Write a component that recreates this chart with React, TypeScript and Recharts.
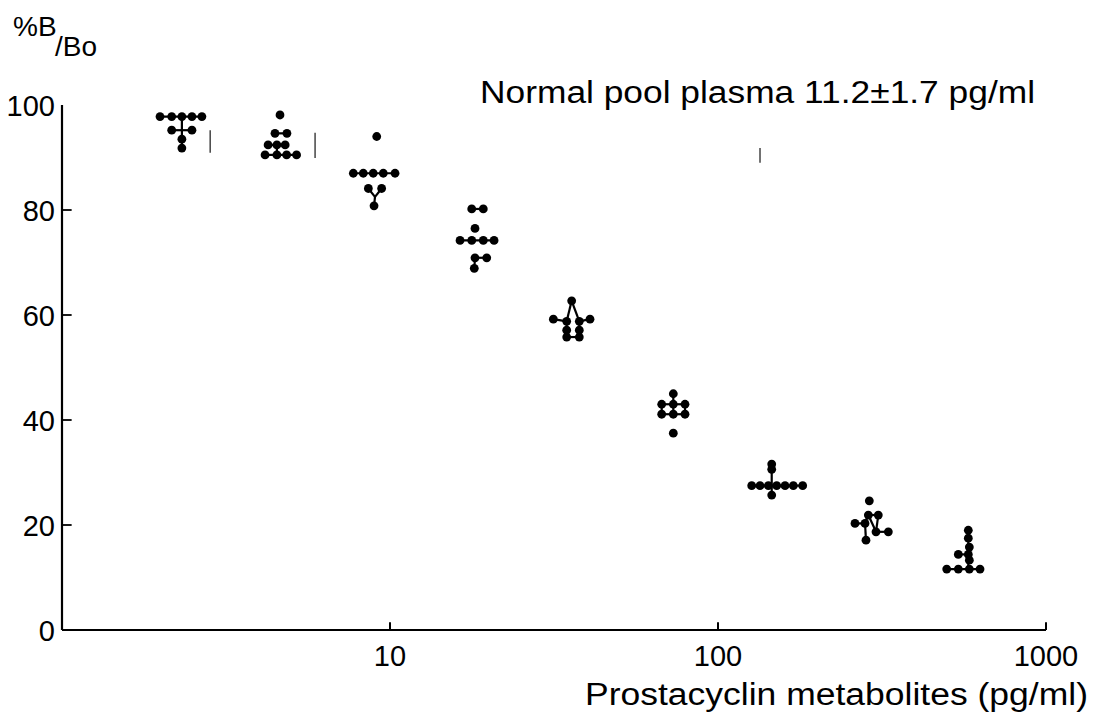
import React from 'react';
import { ScatterChart, Scatter, XAxis, YAxis, ReferenceLine, Label } from 'recharts';

type P = { x: number; y: number };

const FONT = '"Liberation Sans", Arial, sans-serif';

const xTicks = [10, 100, 1000];
const yTicks = [0, 20, 40, 60, 80, 100];
const yInnerTicks = [20, 40, 60, 80];

// Individual determinations (pg/ml, %B/Bo), dots placed side by side as in the dot plot
const cluster1: P[] = [
  { x: 1.99, y: 97.8 }, { x: 2.16, y: 97.8 }, { x: 2.32, y: 97.8 }, { x: 2.49, y: 97.8 }, { x: 2.67, y: 97.8 },
  { x: 2.16, y: 95.2 }, { x: 2.49, y: 95.2 }, { x: 2.32, y: 93.5 }, { x: 2.32, y: 91.8 },
];
const cluster2: P[] = [
  { x: 4.62, y: 98.1 }, { x: 4.46, y: 94.6 }, { x: 4.85, y: 94.6 },
  { x: 4.25, y: 92.4 }, { x: 4.52, y: 92.4 }, { x: 4.79, y: 92.4 },
  { x: 4.16, y: 90.5 }, { x: 4.52, y: 90.5 }, { x: 4.84, y: 90.5 }, { x: 5.19, y: 90.5 },
];
const cluster3: P[] = [
  { x: 9.11, y: 94.0 },
  { x: 7.73, y: 87.0 }, { x: 8.29, y: 87.0 }, { x: 8.89, y: 87.0 }, { x: 9.54, y: 87.0 }, { x: 10.36, y: 87.0 },
  { x: 8.59, y: 84.1 }, { x: 9.43, y: 84.1 }, { x: 8.94, y: 80.8 },
];
const cluster4: P[] = [
  { x: 17.75, y: 80.2 }, { x: 19.25, y: 80.2 }, { x: 18.16, y: 76.5 },
  { x: 16.35, y: 74.2 }, { x: 17.75, y: 74.2 }, { x: 19.25, y: 74.2 }, { x: 20.76, y: 74.2 },
  { x: 18.16, y: 70.9 }, { x: 19.72, y: 70.9 }, { x: 18.07, y: 68.9 },
];
const cluster5: P[] = [
  { x: 35.8, y: 62.7 }, { x: 31.48, y: 59.2 }, { x: 40.72, y: 59.2 },
  { x: 34.57, y: 58.8 }, { x: 37.77, y: 58.8 }, { x: 34.57, y: 57.1 }, { x: 37.77, y: 57.1 },
  { x: 34.57, y: 55.8 }, { x: 37.77, y: 55.8 },
];
const cluster6: P[] = [
  { x: 73.07, y: 45.0 },
  { x: 67.35, y: 43.0 }, { x: 73.07, y: 43.0 }, { x: 79.33, y: 43.0 },
  { x: 67.35, y: 41.1 }, { x: 73.07, y: 41.1 }, { x: 79.33, y: 41.1 },
  { x: 73.07, y: 37.5 },
];
const cluster7: P[] = [
  { x: 145.8, y: 31.6 }, { x: 145.8, y: 30.6 },
  { x: 126.7, y: 27.5 }, { x: 134.3, y: 27.5 }, { x: 142.4, y: 27.5 }, { x: 151.0, y: 27.5 },
  { x: 160.1, y: 27.5 }, { x: 169.7, y: 27.5 }, { x: 181.2, y: 27.5 },
  { x: 145.8, y: 25.7 },
];
const cluster8: P[] = [
  { x: 289.3, y: 24.6 }, { x: 287.3, y: 21.9 }, { x: 308.1, y: 21.9 },
  { x: 261.6, y: 20.3 }, { x: 280.7, y: 20.3 }, { x: 303.2, y: 18.7 }, { x: 330.6, y: 18.7 },
  { x: 282.6, y: 17.1 },
];
const cluster9: P[] = [
  { x: 579.6, y: 19.0 }, { x: 579.6, y: 17.5 }, { x: 583.8, y: 15.8 },
  { x: 540.3, y: 14.4 }, { x: 579.6, y: 14.4 }, { x: 583.8, y: 13.3 },
  { x: 498.1, y: 11.6 }, { x: 540.3, y: 11.6 }, { x: 583.8, y: 11.6 }, { x: 629.3, y: 11.6 },
];

const allPoints: P[] = [
  ...cluster1, ...cluster2, ...cluster3, ...cluster4, ...cluster5,
  ...cluster6, ...cluster7, ...cluster8, ...cluster9,
];

// connecting strokes drawn between dots of a cluster
const connectors: [P, P][] = [
  [{ x: 1.99, y: 97.8 }, { x: 2.67, y: 97.8 }],
  [{ x: 2.16, y: 95.2 }, { x: 2.49, y: 95.2 }],
  [{ x: 2.32, y: 97.8 }, { x: 2.32, y: 91.8 }],
  [{ x: 4.46, y: 94.6 }, { x: 4.85, y: 94.6 }],
  [{ x: 4.25, y: 92.4 }, { x: 4.79, y: 92.4 }],
  [{ x: 4.16, y: 90.5 }, { x: 5.19, y: 90.5 }],
  [{ x: 4.52, y: 92.4 }, { x: 4.52, y: 90.5 }],
  [{ x: 7.73, y: 87.0 }, { x: 10.36, y: 87.0 }],
  [{ x: 8.59, y: 84.1 }, { x: 9.0, y: 82.5 }],
  [{ x: 9.43, y: 84.1 }, { x: 9.0, y: 82.5 }],
  [{ x: 9.0, y: 82.5 }, { x: 8.94, y: 80.8 }],
  [{ x: 17.75, y: 80.2 }, { x: 19.25, y: 80.2 }],
  [{ x: 16.35, y: 74.2 }, { x: 20.76, y: 74.2 }],
  [{ x: 18.16, y: 70.9 }, { x: 19.72, y: 70.9 }],
  [{ x: 18.16, y: 70.9 }, { x: 18.07, y: 68.9 }],
  [{ x: 35.8, y: 62.7 }, { x: 34.57, y: 58.8 }],
  [{ x: 35.8, y: 62.7 }, { x: 37.77, y: 58.8 }],
  [{ x: 31.48, y: 59.2 }, { x: 34.57, y: 58.8 }],
  [{ x: 37.77, y: 58.8 }, { x: 40.72, y: 59.2 }],
  [{ x: 34.57, y: 58.8 }, { x: 34.57, y: 55.8 }],
  [{ x: 37.77, y: 58.8 }, { x: 37.77, y: 55.8 }],
  [{ x: 34.57, y: 55.8 }, { x: 37.77, y: 55.8 }],
  [{ x: 67.35, y: 43.0 }, { x: 79.33, y: 43.0 }],
  [{ x: 67.35, y: 41.1 }, { x: 79.33, y: 41.1 }],
  [{ x: 67.35, y: 43.0 }, { x: 67.35, y: 41.1 }],
  [{ x: 79.33, y: 43.0 }, { x: 79.33, y: 41.1 }],
  [{ x: 73.07, y: 45.0 }, { x: 73.07, y: 41.1 }],
  [{ x: 126.7, y: 27.5 }, { x: 181.2, y: 27.5 }],
  [{ x: 145.8, y: 30.6 }, { x: 145.8, y: 25.7 }],
  [{ x: 287.3, y: 21.9 }, { x: 308.1, y: 21.9 }],
  [{ x: 261.6, y: 20.3 }, { x: 280.7, y: 20.3 }],
  [{ x: 280.7, y: 20.3 }, { x: 287.3, y: 21.9 }],
  [{ x: 308.1, y: 21.9 }, { x: 303.2, y: 18.7 }],
  [{ x: 303.2, y: 18.7 }, { x: 330.6, y: 18.7 }],
  [{ x: 282.6, y: 17.1 }, { x: 280.7, y: 20.3 }],
  [{ x: 287.3, y: 21.9 }, { x: 303.2, y: 18.7 }],
  [{ x: 579.6, y: 19.0 }, { x: 579.6, y: 11.6 }],
  [{ x: 498.1, y: 11.6 }, { x: 629.3, y: 11.6 }],
  [{ x: 540.3, y: 14.4 }, { x: 579.6, y: 14.4 }],
];

// faint vertical marks in the figure
const marks: [P, P][] = [
  [{ x: 2.83, y: 95.2 }, { x: 2.83, y: 90.9 }],
  [{ x: 5.91, y: 94.7 }, { x: 5.91, y: 89.9 }],
  [{ x: 134.3, y: 91.8 }, { x: 134.3, y: 89.0 }],
];

const yAxisTitle = '%B';
const yAxisSub = '/Bo';
const xAxisTitle = 'Prostacyclin metabolites (pg/ml)';
const note = 'Normal pool plasma  11.2\u00B11.7 pg/ml';

const XTick = (props: any) => {
  const { x, y, payload } = props;
  return (
    <text x={x} y={y + 26} textAnchor="middle" dominantBaseline="central" fontFamily={FONT} fontSize={29} fill="#000">
      {payload.value}
    </text>
  );
};

const YTick = (props: any) => {
  const { x, y, payload } = props;
  return (
    <text x={x - 7} y={y + 1} textAnchor="end" dominantBaseline="central" fontFamily={FONT} fontSize={29} fill="#000">
      {payload.value}
    </text>
  );
};

const Dot = (props: any) => {
  const { cx, cy } = props;
  return <circle cx={cx} cy={cy} r={4.4} fill="#000" />;
};

export default function App() {
  return (
    <div style={{ position: 'absolute', left: 0, top: 0, width: 1094, height: 722, background: '#fff' }}>
      <ScatterChart width={1094} height={722} margin={{ top: 105, right: 48, bottom: 0, left: 0 }}>
        <XAxis
          type="number"
          dataKey="x"
          scale="log"
          domain={[1, 1000]}
          ticks={xTicks}
          allowDataOverflow
          height={92}
          tickSize={0}
          tickMargin={0}
          tickLine={false}
          axisLine={{ stroke: '#000', strokeWidth: 2.2 }}
          tick={<XTick />}
        >
          <Label
            content={() => (
              <text x={585} y={705} fontFamily={FONT} fontSize={31} fill="#000" textLength={503} lengthAdjust="spacingAndGlyphs">
                {xAxisTitle}
              </text>
            )}
          />
        </XAxis>
        <YAxis
          type="number"
          dataKey="y"
          domain={[0, 100]}
          ticks={yTicks}
          width={62}
          tickSize={0}
          tickMargin={0}
          tickLine={false}
          axisLine={{ stroke: '#000', strokeWidth: 2.2 }}
          tick={<YTick />}
        >
          <Label
            content={() => (
              <g>
                <text x={13} y={36} fontFamily={FONT} fontSize={28} fill="#000">{yAxisTitle}</text>
                <text x={55} y={56} fontFamily={FONT} fontSize={28} fill="#000">{yAxisSub}</text>
                <text x={480} y={103} fontFamily={FONT} fontSize={31} fill="#000" textLength={555} lengthAdjust="spacingAndGlyphs">
                  {note}
                </text>
              </g>
            )}
          />
        </YAxis>
        {xTicks.map((t) => (
          <ReferenceLine key={'t' + t} segment={[{ x: t, y: 0 }, { x: t, y: 1.5 }]} stroke="#000" strokeWidth={2} ifOverflow="visible" />
        ))}
        {yInnerTicks.map((t) => (
          <ReferenceLine key={'yt' + t} segment={[{ x: 1, y: t }, { x: 1.07, y: t }]} stroke="#000" strokeWidth={1.8} ifOverflow="visible" />
        ))}
        {marks.map((s, i) => (
          <ReferenceLine key={'m' + i} segment={s} stroke="#444" strokeWidth={1.5} ifOverflow="visible" />
        ))}
        {connectors.map((s, i) => (
          <ReferenceLine key={'c' + i} segment={s} stroke="#000" strokeWidth={2.2} ifOverflow="visible" />
        ))}
        <Scatter data={allPoints} fill="#000" shape={<Dot />} isAnimationActive={false} />
      </ScatterChart>
    </div>
  );
}
